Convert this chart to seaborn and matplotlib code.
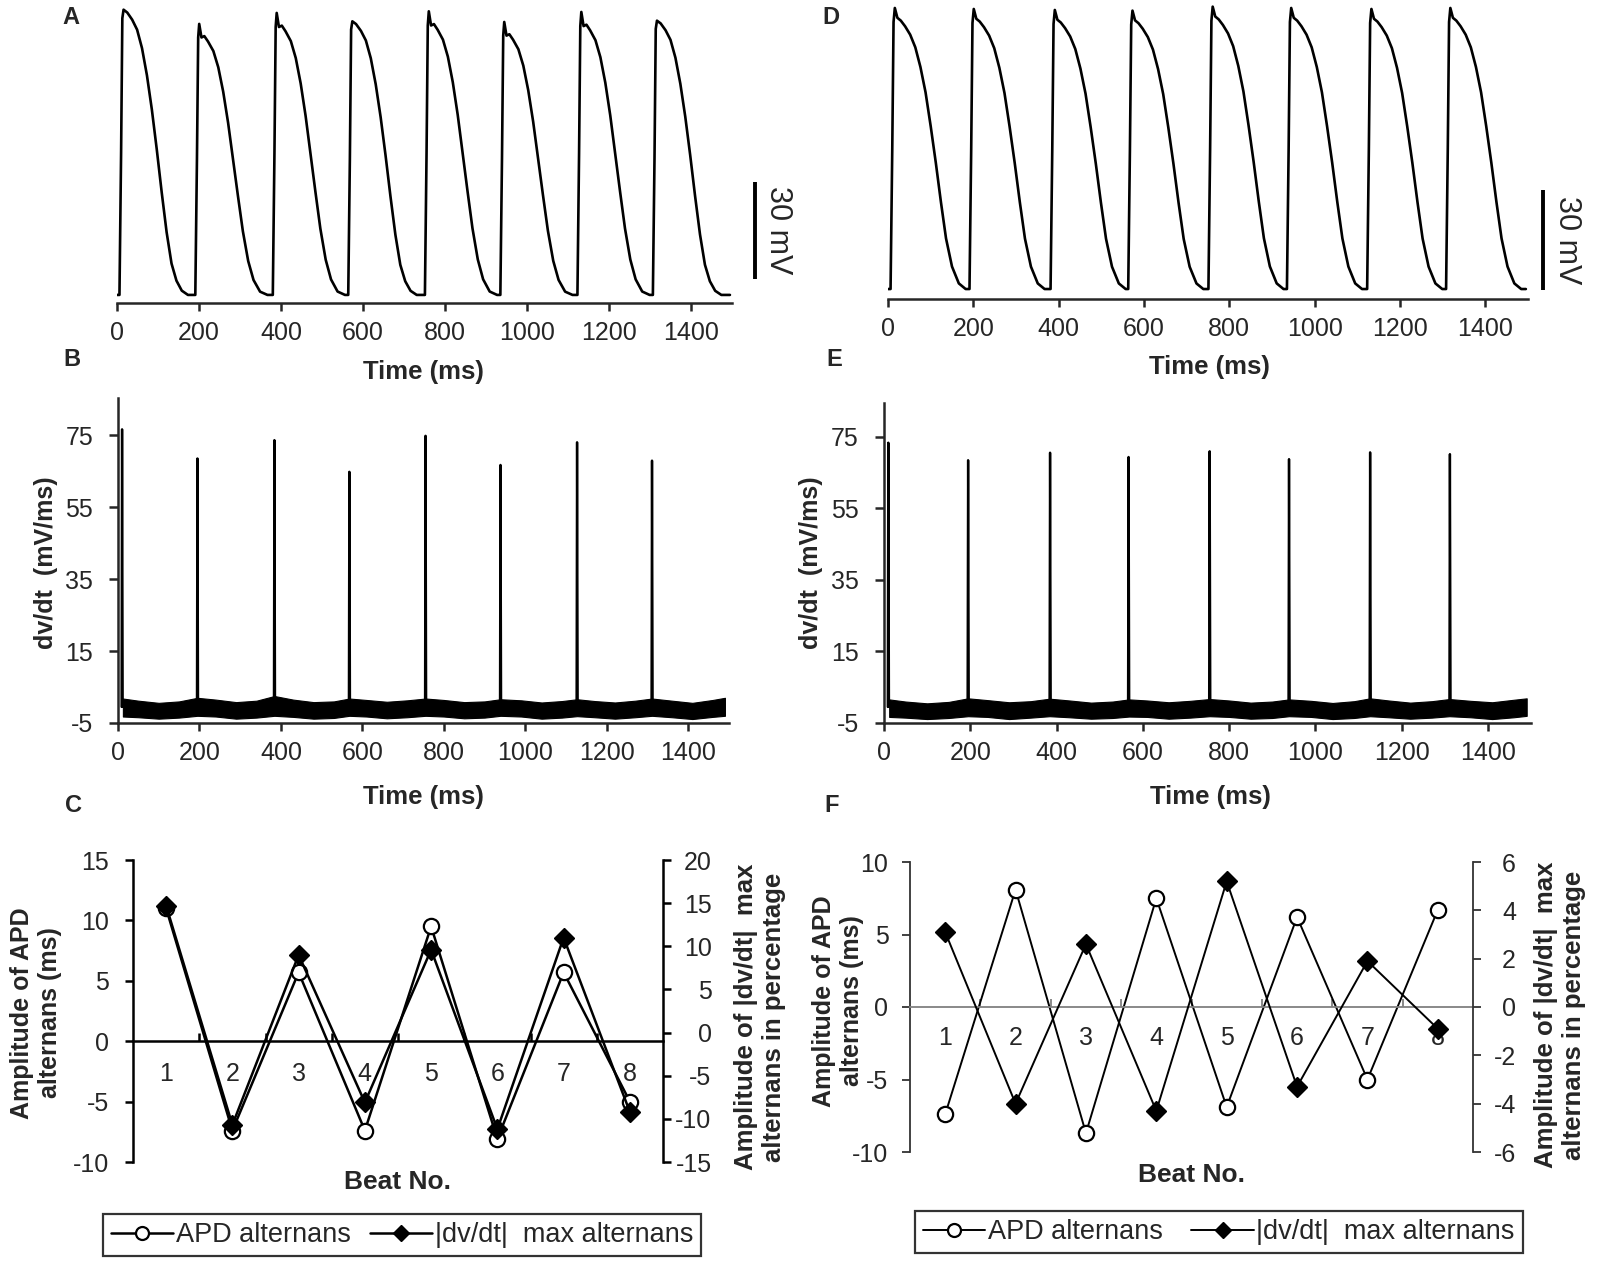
import numpy as np
import pandas as pd
import matplotlib
matplotlib.use('Agg')
import matplotlib.pyplot as plt
import seaborn as sns

sns.set_style('ticks')
plt.rcParams['font.family'] = ['Liberation Sans', 'DejaVu Sans']
plt.rcParams['axes.unicode_minus'] = False

W, H = 1597, 1262

# ---- data ----
time_ticks = [0, 200, 400, 600, 800, 1000, 1200, 1400]
rest_mv = -85

# upstroke (dv/dt max) times, ms
spike_A = [10, 195, 384, 568, 755, 939, 1127, 1311]
spike_D = [10, 195, 385, 567, 755, 939, 1127, 1312]
# AP peak voltage, mV
peak_A = [3.3, -1.1, 2.3, -0.3, 2.8, -0.5, 2.6, -0.1]
peak_D = [-0.4, -0.7, -1.0, -1.2, 0.0, -0.4, -0.7, -0.4]
shape_A = ['dome', 'notch', 'notch', 'dome', 'notch', 'notch', 'notch', 'dome']
shape_D = ['long'] * 8

# AP shapes: ms after upstroke, fraction of amplitude
dome_dt = [-4, 0, 3, 6, 15, 27, 39, 51, 63, 75, 87, 99, 111, 123, 135, 148, 163]
dome_fr = [0, 0.5, 0.97, 1.0, 0.99, 0.965, 0.93, 0.865, 0.77, 0.65, 0.51,
           0.36, 0.22, 0.11, 0.05, 0.015, 0.0]
notch_dt = [-4, 0, 3, 5.5, 11, 18, 27, 40, 52, 64, 76, 88, 100, 112, 125, 138, 154, 172]
notch_fr = [0, 0.5, 0.95, 1.0, 0.95, 0.955, 0.935, 0.9, 0.84, 0.75, 0.635, 0.5,
            0.365, 0.235, 0.125, 0.055, 0.012, 0.0]
long_dt = [-4, 0, 3, 6, 12, 20, 30, 42, 54, 66, 78, 90, 102, 114, 126, 140, 156, 172]
long_fr = [0, 0.5, 0.95, 1.0, 0.965, 0.955, 0.935, 0.905, 0.86, 0.79, 0.70, 0.58,
           0.45, 0.31, 0.18, 0.08, 0.02, 0.0]
AP_SHAPES = {'dome': (dome_dt, dome_fr), 'notch': (notch_dt, notch_fr),
             'long': (long_dt, long_fr)}

# dv/dt max of each beat, mV/ms
dvdt_B = [76.6, 68.5, 73.6, 64.8, 74.8, 66.7, 73.0, 67.9]
dvdt_E = [73.4, 68.5, 70.6, 69.4, 71.0, 68.8, 70.7, 70.2]

# dv/dt baseline noise band
base_t = [12, 50, 100, 150, 195, 240, 290, 340, 384, 430, 480, 530, 568, 610, 660,
          710, 755, 800, 850, 900, 939, 990, 1040, 1090, 1127, 1170, 1220, 1270,
          1311, 1360, 1410, 1460, 1490]
B_hi = [1.8, 1.2, 0.6, 1.0, 2.0, 1.5, 0.8, 1.2, 2.5, 1.5, 0.8, 1.0, 1.8, 1.4, 0.9,
        1.3, 1.8, 1.4, 0.8, 1.0, 1.6, 1.3, 0.7, 1.1, 1.6, 1.1, 0.7, 1.2, 1.8, 1.2,
        0.6, 1.4, 2.0]
B_lo = [-3.2, -3.4, -3.8, -3.5, -3.0, -3.2, -3.8, -3.5, -3.0, -3.3, -3.8, -3.6, -3.0,
        -3.2, -3.7, -3.4, -3.0, -3.2, -3.7, -3.5, -3.0, -3.2, -3.8, -3.5, -3.1, -3.4,
        -3.8, -3.4, -3.0, -3.4, -3.9, -3.3, -3.0]
E_hi = [1.6, 1.0, 0.5, 0.9, 1.9, 1.4, 0.8, 1.1, 1.8, 1.3, 0.7, 1.0, 1.6, 1.3, 0.8,
        1.2, 1.7, 1.3, 0.7, 1.0, 1.6, 1.2, 0.6, 1.1, 1.9, 1.3, 0.7, 1.1, 1.7, 1.2,
        0.8, 1.5, 1.9]
E_lo = [-3.3, -3.5, -3.9, -3.6, -3.1, -3.3, -3.9, -3.5, -3.1, -3.4, -3.8, -3.6, -3.2,
        -3.3, -3.8, -3.5, -3.1, -3.3, -3.8, -3.6, -3.1, -3.3, -3.9, -3.6, -3.1, -3.4,
        -3.8, -3.5, -3.1, -3.4, -3.9, -3.4, -3.0]

beats = [1, 2, 3, 4, 5, 6, 7, 8]
apd_C = [11.0, -7.4, 5.7, -7.4, 9.5, -8.1, 5.7, -5.0]
dvdt_C = [14.7, -10.7, 9.0, -8.1, 9.6, -11.2, 11.0, -9.2]
apd_F = [-7.4, 8.1, -8.7, 7.5, -6.9, 6.2, -5.0, 6.7]
dvdt_F = [3.1, -4.0, 2.6, -4.3, 5.2, -3.3, 1.9, -0.9]


def ap_trace(spikes, peaks, shapes, t_end=1495):
    t, v = [0.0], [rest_mv]
    for s, pk, shp in zip(spikes, peaks, shapes):
        dts, frs = AP_SHAPES[shp]
        for dt, fr in zip(dts, frs):
            t.append(s + dt)
            v.append(rest_mv + fr * (pk - rest_mv))
    t.append(t_end)
    v.append(rest_mv)
    return pd.DataFrame({'t': t, 'v': v})


def spike_table(spikes, peaks):
    rows = []
    for i, (s, pk) in enumerate(zip(spikes, peaks)):
        rows += [(i, s - 1.2, -0.5), (i, s, pk), (i, s + 1.5, -0.5)]
    return pd.DataFrame(rows, columns=['beat', 't', 'v'])


fig = plt.figure(figsize=(W / 100, H / 100), dpi=100)


def px_axes(box):
    l, t, r, b = box
    return fig.add_axes([l / W, 1 - b / H, (r - l) / W, (b - t) / H])


def place(axis, box, x, y):
    l, t, r, b = box
    axis.set_label_coords((x - l) / (r - l), (b - y) / (b - t))
    axis.label.set_ha('center')
    axis.label.set_va('center')


def time_axis(ax, box, lab_xy, pad):
    ax.set_xlim(0, 1500)
    ax.set_xticks(time_ticks)
    ax.tick_params(axis='x', labelsize=18, length=6, width=1.8, pad=pad)
    ax.spines['bottom'].set_linewidth(1.8)
    ax.set_xlabel('Time (ms)', fontsize=18.5, fontweight='bold')
    place(ax.xaxis, box, *lab_xy)


# ---- A / D: action potentials ----
for box, spikes, peaks, shapes, ylim, bar, lab in [
        ((117, 0, 732, 303), spike_A, peak_A, shape_A, (-87.5, 6.3),
         (1556, -80, -50, 1612, -65), (423, 372)),
        ((888, 0, 1528, 299), spike_D, peak_D, shape_D, (-88, 2.0),
         (1536, -85.2, -55.2, 1592, -70.2), (1209, 367))]:
    ax = px_axes(box)
    sns.lineplot(data=ap_trace(spikes, peaks, shapes), x='t', y='v', ax=ax,
                 color='k', linewidth=1.9, estimator=None, sort=False)
    ax.set_ylim(*ylim)
    for s in ['left', 'right', 'top']:
        ax.spines[s].set_visible(False)
    ax.set_yticks([])
    ax.set_ylabel('')
    time_axis(ax, box, lab, 7)
    ax.plot([bar[0], bar[0]], [bar[1], bar[2]], color='k', lw=2.8,
            clip_on=False, solid_capstyle='butt')
    ax.text(bar[3], bar[4], '30 mV', rotation=-90, ha='center', va='center',
            fontsize=22, clip_on=False)

# ---- B / E: dv/dt ----
for box, spikes, peaks, hi, lo, ytop, lab, ylab in [
        ((118, 398, 729, 723), spike_A, dvdt_B, B_hi, B_lo, 85.3, (423, 797), (46, 563)),
        ((884, 403, 1531, 723), spike_D, dvdt_E, E_hi, E_lo, 84.5, (1210, 797), (811, 563))]:
    ax = px_axes(box)
    ax.fill_between(base_t, lo, hi, color='k', linewidth=0.8)
    sns.lineplot(data=spike_table(spikes, peaks), x='t', y='v', units='beat',
                 ax=ax, color='k', linewidth=1.7, estimator=None, sort=False)
    ax.set_ylim(-5, ytop)
    ax.set_yticks([-5, 15, 35, 55, 75])
    ax.tick_params(axis='y', labelsize=18, length=6.5, width=1.8, pad=11.5)
    ax.spines['left'].set_linewidth(1.8)
    for s in ['right', 'top']:
        ax.spines[s].set_visible(False)
    time_axis(ax, box, lab, 7)
    ax.set_ylabel('dv/dt  (mV/ms)', fontsize=18, fontweight='bold')
    place(ax.yaxis, box, *ylab)

# ---- C / F: alternans ----
panels = [
    dict(box=(133, 860, 663, 1162), apd=apd_C, dvdt=dvdt_C, yl=(-10, 15), yr=(-15, 20),
         lstep=5, rstep=5, zero='k', zlw=1.8, lw=1.8, slw=1.8, scol='k',
         lpad=11.5, rpad=29, catpad=15, ms=(11, 10), colsp=0.7,
         xlab=(398, 1182), ylab_l=(36, 1013), ylab_r=(760, 1017), leg=(402, 1235)),
    dict(box=(910, 862, 1473, 1152), apd=apd_F, dvdt=dvdt_F, yl=(-10, 10), yr=(-6, 6),
         lstep=5, rstep=2, zero='0.5', zlw=1.3, lw=1.4, slw=1.3, scol='0.2',
         lpad=9.5, rpad=25, catpad=14, ms=(11, 10), colsp=1.05,
         xlab=(1191, 1175), ylab_l=(838, 1001), ylab_r=(1560, 1015), leg=(1219, 1232)),
]

for p in panels:
    box = p['box']
    ax1 = px_axes(box)
    ax2 = ax1.twinx()
    sns.lineplot(x=beats, y=p['apd'], ax=ax1, color='k', linewidth=p['lw'],
                 marker='o', markersize=p['ms'][0], markerfacecolor='white',
                 markeredgecolor='k', markeredgewidth=1.6, label='APD alternans')
    sns.lineplot(x=beats, y=p['dvdt'], ax=ax2, color='k', linewidth=p['lw'],
                 marker='D', markersize=p['ms'][1], markerfacecolor='k',
                 markeredgecolor='k', markeredgewidth=1.0,
                 label='|dv/dt|  max alternans')
    h1, l1 = ax1.get_legend_handles_labels()
    h2, l2 = ax2.get_legend_handles_labels()
    ax1.get_legend().remove()
    ax2.get_legend().remove()

    ax1.set_xlim(0.5, 8.5)
    ax1.set_ylim(*p['yl'])
    ax2.set_ylim(*p['yr'])
    ax1.set_yticks(np.arange(p['yl'][0], p['yl'][1] + 1, p['lstep']))
    ax2.set_yticks(np.arange(p['yr'][0], p['yr'][1] + 1, p['rstep']))
    ax1.set_xticks([1.5, 2.5, 3.5, 4.5, 5.5, 6.5, 7.5])
    ax1.set_xticklabels([])
    ax1.set_xticks(beats, labels=[str(b) for b in beats], minor=True)
    ax1.tick_params(axis='x', which='major', direction='in', length=6,
                    width=p['zlw'], color=p['zero'])
    ax1.tick_params(axis='x', which='minor', length=0, pad=p['catpad'], labelsize=18)
    ax1.tick_params(axis='y', direction='out', length=6, width=p['slw'],
                    color=p['scol'], labelsize=18, pad=p['lpad'])
    ax2.tick_params(axis='y', direction='out', length=6, width=p['slw'],
                    color=p['scol'], labelsize=18, pad=p['rpad'])
    plt.setp(ax2.get_yticklabels(), ha='right')

    ax1.spines['bottom'].set_position(('data', 0))
    ax1.spines['bottom'].set_color(p['zero'])
    ax1.spines['bottom'].set_linewidth(p['zlw'])
    ax1.spines['left'].set_linewidth(p['slw'])
    ax1.spines['left'].set_color(p['scol'])
    for s in ['right', 'top']:
        ax1.spines[s].set_visible(False)
    for s in ['left', 'top', 'bottom']:
        ax2.spines[s].set_visible(False)
    ax2.spines['right'].set_linewidth(p['slw'])
    ax2.spines['right'].set_color(p['scol'])

    ax1.set_xlabel('Beat No.', fontsize=19, fontweight='bold')
    place(ax1.xaxis, box, *p['xlab'])
    ax1.set_ylabel('Amplitude of APD\nalternans (ms)', fontsize=18,
                   fontweight='bold', linespacing=1.25, multialignment='center')
    place(ax1.yaxis, box, *p['ylab_l'])
    ax2.set_ylabel('Amplitude of |dv/dt|  max\nalternans in percentage', fontsize=18.5,
                   fontweight='bold', linespacing=1.2, multialignment='center')
    place(ax2.yaxis, box, *p['ylab_r'])

    leg = fig.legend(h1 + h2, l1 + l2, loc='center',
                     bbox_to_anchor=(p['leg'][0] / W, 1 - p['leg'][1] / H),
                     ncol=2, frameon=True, fancybox=False, edgecolor='k',
                     fontsize=19.5, handlelength=2.3, handletextpad=0.1,
                     columnspacing=p['colsp'], borderpad=0.3, markerscale=0.85)
    leg.get_frame().set_linewidth(1.6)

# panel letters
for letter, x, y in [('A', 71, 17), ('B', 72, 360), ('C', 74, 805),
                     ('D', 831, 17), ('E', 834, 360), ('F', 832, 805)]:
    fig.text(x / W, 1 - y / H, letter, fontsize=17, fontweight='bold',
             ha='center', va='center')

fig.savefig('out.png', dpi=100)
